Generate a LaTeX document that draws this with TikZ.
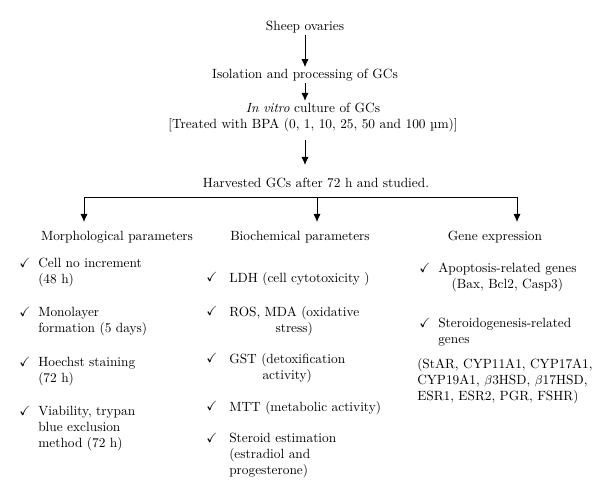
\documentclass[tikz,border=0pt]{standalone}
\usepackage{amssymb}
\usetikzlibrary{arrows.meta,positioning}

\begin{document}
\begin{tikzpicture}[
  x=0.025cm, y=-0.025cm,
  font=\fontsize{9.5}{11.4}\selectfont,
  lbl/.style={inner sep=1pt, align=center},
  item/.style={inner sep=0pt, anchor=north west, align=left},
  itemc/.style={item, align=center},
  tick/.style={inner sep=0pt},
  arrow/.style={-{Latex[length=2mm,width=1.8mm]}, line width=0.7pt},
  tree/.style={line width=0.7pt}
]
  \useasboundingbox (0,0) rectangle (600,500);

  % top chain
  \node[lbl] (sheep) at (305,27) {Sheep ovaries};
  \node[lbl] (iso) at (305,75) {Isolation and processing of GCs};
  \node[lbl] (vitro) at (313,117)
    {\textit{In vitro} culture of GCs\\{[}Treated with BPA (0, 1, 10, 25, 50 and 100 µm)]};
  \node[lbl] (harv) at (316,183) {Harvested GCs after 72 h and studied.};

  \coordinate (vout) at (305,140);
  \draw[arrow] (sheep.south) -- (sheep.south |- iso.north);
  \draw[arrow] (iso.south) -- (iso.south |- vitro.north);
  \draw[arrow] (vout) -- ++(0,25);

  % three branches
  \coordinate (jl) at (84,197);
  \coordinate (jm) at (317,197);
  \coordinate (jr) at (517,197);
  \draw[tree] (jl) -- (jr);

  \node[lbl] (morph) at (117,237) {Morphological parameters};
  \node[lbl] (bio) at (300,237) {Biochemical parameters};
  \node[lbl] (gene) at (495,237) {Gene expression};

  \draw[arrow] (jl) -- ++(0,25);
  \draw[arrow] (jm) -- ++(0,25);
  \draw[arrow] (jr) -- ++(0,25);

  % morphological
  \node[item] (m1) at (38,258) {Cell no increment\\(48 h)};
  \node[item] (m2) at (38,307) {Monolayer\\formation (5 days)};
  \node[item] (m3) at (38,357) {Hoechst staining\\(72 h)};
  \node[item] (m4) at (38,406) {Viability, trypan\\blue exclusion\\method (72 h)};
  \foreach \y in {263,312,362,411}
    \node[tick] at (25,\y) {\checkmark};

  % biochemical
  \node[item] (b1) at (229,272) {LDH (cell cytotoxicity )};
  \node[itemc] (b2) at (229,306) {ROS, MDA (oxidative\\stress)};
  \node[itemc] (b3) at (229,353) {GST (detoxification\\activity)};
  \node[item] (b4) at (229,401) {MTT (metabolic activity)};
  \node[item] (b5) at (229,433) {Steroid estimation\\(estradiol and\\progesterone)};
  \foreach \y in {277,311,358,406,438}
    \node[tick] at (212,\y) {\checkmark};

  % gene expression
  \node[itemc] (g1) at (438,263) {Apoptosis-related genes\\(Bax, Bcl2, Casp3)};
  \node[item] (g2) at (438,318) {Steroidogenesis-related\\genes};
  \node[item] (g3) at (417,358)
    {(StAR, CYP11A1, CYP17A1,\\CYP19A1, $\beta$3HSD, $\beta$17HSD,\\ESR1, ESR2, PGR, FSHR)};
  \foreach \y in {268,323}
    \node[tick] at (425,\y) {\checkmark};
\end{tikzpicture}
\end{document}
